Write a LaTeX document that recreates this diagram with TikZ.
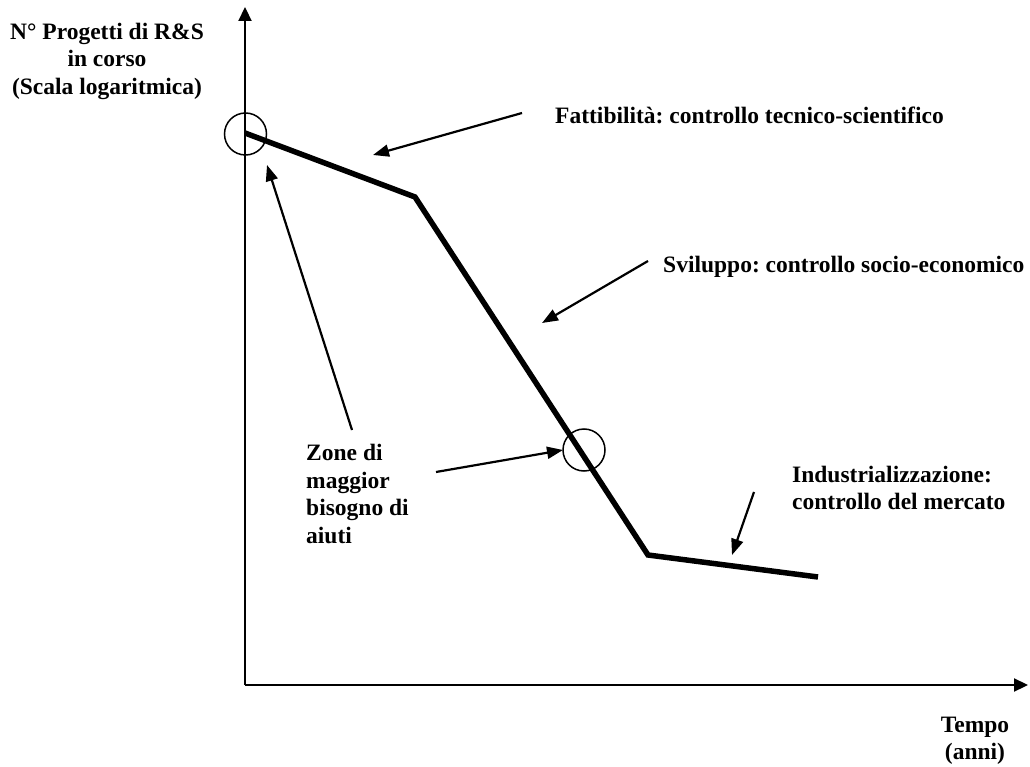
\documentclass[tikz,border=0pt]{standalone}
\usepackage{fontspec}
\setmainfont{Liberation Serif}
\usetikzlibrary{arrows.meta}
\frenchspacing
\begin{document}
\begin{tikzpicture}[x=1pt,y=-1pt,
  lbl/.style={font=\fontsize{23.5}{27.5}\selectfont\bfseries, inner sep=0pt},
  axis/.style={line width=2.2pt, -{Triangle[length=14pt,width=13pt]}},
  ann/.style={line width=2.2pt, -{Triangle[length=16pt,width=12pt]}},
  curve/.style={line width=5.5pt, line join=miter},
  ring/.style={draw, circle, line width=1.5pt, minimum size=42pt, inner sep=0pt}]
\useasboundingbox (0,0) rectangle (1030,767);
% axes
\coordinate (O) at (245,685);
\coordinate (ytop) at (245,7);
\coordinate (xend) at (1028,685);
\draw[axis] (O) -- (ytop);
\draw[axis] (O) -- (xend);
% curve
\coordinate (p1) at (245,133);
\coordinate (p2) at (415,197);
\coordinate (p3) at (648,555);
\coordinate (p4) at (818,577);
\draw[curve] (p1) -- (p2) -- (p3) -- (p4);
% circles
\node[ring] (c1) at (245.5,134) {};
\node[ring] (c2) at (584,450) {};
% labels
\node[lbl, align=center] (ylab) at (107,61) {N° Progetti di R\&S\\in corso\\(Scala logaritmica)};
\node[lbl, anchor=west] (fatt) at (555,115) {Fattibilità: controllo tecnico-scientifico};
\node[lbl, anchor=west] (svil) at (663,267) {Sviluppo: controllo socio-economico};
\node[lbl, align=left, anchor=west] (zone) at (306,494) {Zone di\\maggior\\bisogno di\\aiuti};
\node[lbl, align=left, anchor=west] (ind) at (792,488) {Industrializzazione:\\controllo del mercato};
\node[lbl, align=center] (tempo) at (975,741) {Tempo\\(anni)};
% annotation arrows
\coordinate (fattT) at (522,113);
\coordinate (fattH) at (373,155);
\draw[ann] (fattT) -- (fattH);
\coordinate (svilT) at (648,261);
\coordinate (svilH) at (542,323);
\draw[ann] (svilT) -- (svilH);
\coordinate (zoneT1) at (352,430);
\coordinate (zoneH1) at (267,165);
\draw[ann] (zoneT1) -- (zoneH1);
\coordinate (zoneT2) at (436,472);
\coordinate (zoneH2) at (563,450);
\draw[ann] (zoneT2) -- (zoneH2);
\coordinate (indT) at (754,492);
\coordinate (indH) at (732,555);
\draw[ann] (indT) -- (indH);
\end{tikzpicture}
\end{document}
